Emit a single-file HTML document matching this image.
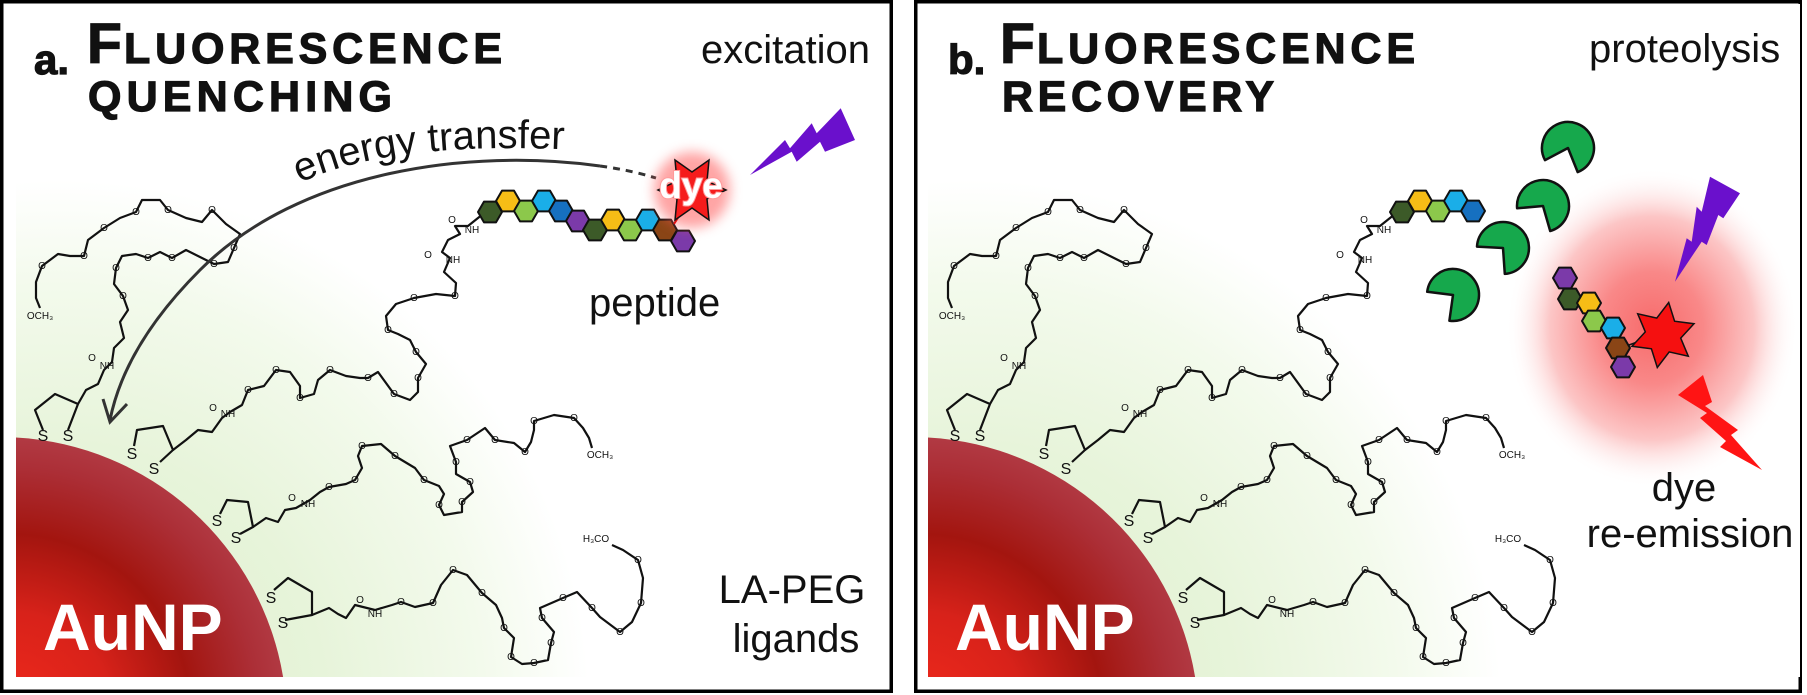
<!DOCTYPE html>
<html><head><meta charset="utf-8"><style>html,body{margin:0;padding:0;background:#fff;width:1807px;height:695px;overflow:hidden}svg{display:block}</style></head>
<body>
<svg width="1807" height="695" viewBox="0 0 1807 695" xmlns="http://www.w3.org/2000/svg" font-family="'Liberation Sans', Arial, sans-serif">
<defs>
<radialGradient id="gg" gradientUnits="userSpaceOnUse" cx="60" cy="710" r="530">
<stop offset="0" stop-color="#dcedc9"/><stop offset="0.5" stop-color="#e7f4da"/><stop offset="0.8" stop-color="#f3faec"/><stop offset="1" stop-color="#ffffff"/>
</radialGradient>
<radialGradient id="au" gradientUnits="userSpaceOnUse" cx="10" cy="715" r="292">
<stop offset="0" stop-color="#f0291c"/><stop offset="0.35" stop-color="#d8221a"/><stop offset="0.62" stop-color="#a3150f"/><stop offset="0.85" stop-color="#ac2f37"/><stop offset="1" stop-color="#b43f49"/>
</radialGradient>
<radialGradient id="rg" cx="0.5" cy="0.5" r="0.5">
<stop offset="0" stop-color="#f76b6b"/><stop offset="0.35" stop-color="#f98888"/><stop offset="0.7" stop-color="#fcc6c6"/><stop offset="1" stop-color="#ffffff" stop-opacity="0"/>
</radialGradient>
<filter id="bl" x="-50%" y="-50%" width="200%" height="200%"><feGaussianBlur stdDeviation="6"/></filter>
</defs>

<rect x="1.75" y="1.75" width="889.5" height="689.5" fill="#fff" stroke="#000" stroke-width="3.5"/>
<rect x="915.75" y="1.75" width="884.5" height="689.5" fill="#fff" stroke="#000" stroke-width="3.5"/>

<rect x="16" y="4" width="872" height="673" fill="url(#gg)"/>
<path d="M16,677 L16,437.5 A287,287 0 0 1 283.1,677 Z" fill="url(#au)"/>
<g transform="translate(912,0)">
<rect x="16" y="4" width="872" height="673" fill="url(#gg)"/>
<path d="M16,677 L16,437.5 A287,287 0 0 1 283.1,677 Z" fill="url(#au)"/>
</g>
<ellipse cx="1652" cy="328" rx="146" ry="160" fill="url(#rg)"/>

<!-- PANEL A chemistry -->
<g fill="none" stroke="#111" stroke-width="2.2" stroke-linejoin="round">
<polyline points="43,430 35,410 55,394 78,404 68,430"/>
<polyline points="78,404 86,390 98,384 104,370 112,362 114,348 124,338 120,322 128,310 123,296 114,284 116,268 122,256 136,254 148,258 160,252 172,258 186,250 198,256 214,264 228,262 234,248 240,234 226,224 212,210 202,222 186,218 168,210 160,200 142,200 136,212 120,218 104,228 88,240 84,256 70,256 58,254 42,266 36,282 36,298 40,308"/>
<polyline points="134,446 137,430 163,426 173,450 160,462"/>
<polyline points="173,450 186,440 198,430 212,432 222,418 230,412 242,405 248,390 264,386 276,370 290,372 300,386 300,398 314,394 318,380 330,370 346,376 360,378 368,378 378,372 394,394 410,400 418,392 418,378 426,364 416,352 410,340 398,334 388,330 386,316 396,304 414,298 436,294 455,296 456,283 444,272 450,258 442,252 448,240 460,234 455,226 468,226 483,214"/>
<polyline points="220,514 227,500 248,502 253,527 240,534"/>
<polyline points="253,527 266,518 278,522 285,510 296,508 310,500 320,492 329,487 346,484 355,480 362,468 358,456 362,446 381,444 395,456 415,468 424,480 439,486 444,494 439,505 444,515 462,512 462,502 473,492 470,482 456,474 456,462 450,446 467,440 485,428 495,440 514,443 525,452 531,442 534,430 534,421 554,415 574,418 583,428 589,438 592,448"/>
<polyline points="274,590 288,578 312,592 312,615 285,620"/>
<polyline points="312,615 329,608 338,614 346,618 355,605 375,610 392,605 401,602 415,607 433,603 441,585 453,570 467,575 482,593 496,605 502,618 504,628 514,638 511,657 522,664 534,663 548,660 551,643 554,632 542,618 540,608 563,598 577,592 592,608 600,617 620,632 632,622 641,603 643,578 638,560 623,550 612,545"/>
</g>
<g font-size="10" fill="#111" text-anchor="middle">
<text x="123" y="299">O</text><text x="116" y="271">O</text><text x="148" y="261">O</text><text x="172" y="261">O</text><text x="214" y="267">O</text><text x="234" y="251">O</text><text x="212" y="213">O</text><text x="168" y="213">O</text><text x="136" y="215">O</text><text x="104" y="231">O</text><text x="84" y="259">O</text><text x="42" y="269">O</text>
<text x="40" y="319">OCH₃</text><text x="92" y="361">O</text><text x="107" y="369">NH</text>
<text x="248" y="393">O</text><text x="276" y="373">O</text><text x="300" y="401">O</text><text x="330" y="373">O</text><text x="368" y="381">O</text><text x="394" y="397">O</text><text x="418" y="381">O</text><text x="416" y="355">O</text><text x="388" y="333">O</text><text x="414" y="301">O</text><text x="455" y="299">O</text>
<text x="213" y="411">O</text><text x="228" y="417">NH</text><text x="453" y="263">NH</text><text x="428" y="258">O</text><text x="452" y="223">O</text><text x="472" y="233">NH</text>
<text x="329" y="490">O</text><text x="355" y="483">O</text><text x="362" y="449">O</text><text x="395" y="459">O</text><text x="424" y="483">O</text><text x="439" y="508">O</text><text x="462" y="505">O</text><text x="470" y="485">O</text><text x="456" y="465">O</text><text x="467" y="443">O</text><text x="495" y="443">O</text><text x="525" y="455">O</text><text x="534" y="424">O</text><text x="574" y="421">O</text>
<text x="292" y="501">O</text><text x="308" y="507">NH</text><text x="600" y="458">OCH₃</text>
<text x="401" y="605">O</text><text x="433" y="606">O</text><text x="453" y="573">O</text><text x="482" y="596">O</text><text x="504" y="631">O</text><text x="511" y="660">O</text><text x="534" y="666">O</text><text x="551" y="646">O</text><text x="542" y="621">O</text><text x="563" y="601">O</text><text x="592" y="611">O</text><text x="620" y="635">O</text><text x="641" y="606">O</text><text x="638" y="563">O</text>
<text x="360" y="603">O</text><text x="375" y="617">NH</text><text x="596" y="542">H₃CO</text>
</g>
<g font-size="16" fill="#111" text-anchor="middle">
<text x="43" y="441">S</text><text x="68" y="441">S</text><text x="132" y="459">S</text><text x="154" y="474">S</text><text x="217" y="526">S</text><text x="236" y="543">S</text><text x="271" y="603">S</text><text x="283" y="628">S</text>
</g>
<text x="43" y="650" font-size="66" font-weight="bold" fill="#fff">AuNP</text>

<!-- PANEL B chemistry -->
<g transform="translate(912,0)">
<g fill="none" stroke="#111" stroke-width="2.2" stroke-linejoin="round">
<polyline points="43,430 35,410 55,394 78,404 68,430"/>
<polyline points="78,404 86,390 98,384 104,370 112,362 114,348 124,338 120,322 128,310 123,296 114,284 116,268 122,256 136,254 148,258 160,252 172,258 186,250 198,256 214,264 228,262 234,248 240,234 226,224 212,210 202,222 186,218 168,210 160,200 142,200 136,212 120,218 104,228 88,240 84,256 70,256 58,254 42,266 36,282 36,298 40,308"/>
<polyline points="134,446 137,430 163,426 173,450 160,462"/>
<polyline points="173,450 186,440 198,430 212,432 222,418 230,412 242,405 248,390 264,386 276,370 290,372 300,386 300,398 314,394 318,380 330,370 346,376 360,378 368,378 378,372 394,394 410,400 418,392 418,378 426,364 416,352 410,340 398,334 388,330 386,316 396,304 414,298 436,294 455,296 456,283 444,272 450,258 442,252 448,240 460,234 455,226 468,226 483,214"/>
<polyline points="220,514 227,500 248,502 253,527 240,534"/>
<polyline points="253,527 266,518 278,522 285,510 296,508 310,500 320,492 329,487 346,484 355,480 362,468 358,456 362,446 381,444 395,456 415,468 424,480 439,486 444,494 439,505 444,515 462,512 462,502 473,492 470,482 456,474 456,462 450,446 467,440 485,428 495,440 514,443 525,452 531,442 534,430 534,421 554,415 574,418 583,428 589,438 592,448"/>
<polyline points="274,590 288,578 312,592 312,615 285,620"/>
<polyline points="312,615 329,608 338,614 346,618 355,605 375,610 392,605 401,602 415,607 433,603 441,585 453,570 467,575 482,593 496,605 502,618 504,628 514,638 511,657 522,664 534,663 548,660 551,643 554,632 542,618 540,608 563,598 577,592 592,608 600,617 620,632 632,622 641,603 643,578 638,560 623,550 612,545"/>
</g>
<g font-size="10" fill="#111" text-anchor="middle">
<text x="123" y="299">O</text><text x="116" y="271">O</text><text x="148" y="261">O</text><text x="172" y="261">O</text><text x="214" y="267">O</text><text x="234" y="251">O</text><text x="212" y="213">O</text><text x="168" y="213">O</text><text x="136" y="215">O</text><text x="104" y="231">O</text><text x="84" y="259">O</text><text x="42" y="269">O</text>
<text x="40" y="319">OCH₃</text><text x="92" y="361">O</text><text x="107" y="369">NH</text>
<text x="248" y="393">O</text><text x="276" y="373">O</text><text x="300" y="401">O</text><text x="330" y="373">O</text><text x="368" y="381">O</text><text x="394" y="397">O</text><text x="418" y="381">O</text><text x="416" y="355">O</text><text x="388" y="333">O</text><text x="414" y="301">O</text><text x="455" y="299">O</text>
<text x="213" y="411">O</text><text x="228" y="417">NH</text><text x="453" y="263">NH</text><text x="428" y="258">O</text><text x="452" y="223">O</text><text x="472" y="233">NH</text>
<text x="329" y="490">O</text><text x="355" y="483">O</text><text x="362" y="449">O</text><text x="395" y="459">O</text><text x="424" y="483">O</text><text x="439" y="508">O</text><text x="462" y="505">O</text><text x="470" y="485">O</text><text x="456" y="465">O</text><text x="467" y="443">O</text><text x="495" y="443">O</text><text x="525" y="455">O</text><text x="534" y="424">O</text><text x="574" y="421">O</text>
<text x="292" y="501">O</text><text x="308" y="507">NH</text><text x="600" y="458">OCH₃</text>
<text x="401" y="605">O</text><text x="433" y="606">O</text><text x="453" y="573">O</text><text x="482" y="596">O</text><text x="504" y="631">O</text><text x="511" y="660">O</text><text x="534" y="666">O</text><text x="551" y="646">O</text><text x="542" y="621">O</text><text x="563" y="601">O</text><text x="592" y="611">O</text><text x="620" y="635">O</text><text x="641" y="606">O</text><text x="638" y="563">O</text>
<text x="360" y="603">O</text><text x="375" y="617">NH</text><text x="596" y="542">H₃CO</text>
</g>
<g font-size="16" fill="#111" text-anchor="middle">
<text x="43" y="441">S</text><text x="68" y="441">S</text><text x="132" y="459">S</text><text x="154" y="474">S</text><text x="217" y="526">S</text><text x="236" y="543">S</text><text x="271" y="603">S</text><text x="283" y="628">S</text>
</g>
<text x="43" y="650" font-size="66" font-weight="bold" fill="#fff">AuNP</text>
</g>

<!-- Hexagons -->
<g stroke="#111" stroke-width="2" stroke-linejoin="round">
<path transform="translate(490,212)" fill="#3c5a28" d="M12,0L6,10.4L-6,10.4L-12,0L-6,-10.4L6,-10.4Z"/>
<path transform="translate(508,201)" fill="#f6bd16" d="M12,0L6,10.4L-6,10.4L-12,0L-6,-10.4L6,-10.4Z"/>
<path transform="translate(526,211)" fill="#8cc84b" d="M12,0L6,10.4L-6,10.4L-12,0L-6,-10.4L6,-10.4Z"/>
<path transform="translate(544,201)" fill="#1aaee8" d="M12,0L6,10.4L-6,10.4L-12,0L-6,-10.4L6,-10.4Z"/>
<path transform="translate(561,211)" fill="#1670c0" d="M12,0L6,10.4L-6,10.4L-12,0L-6,-10.4L6,-10.4Z"/>
<path transform="translate(578,221)" fill="#7b3aa9" d="M12,0L6,10.4L-6,10.4L-12,0L-6,-10.4L6,-10.4Z"/>
<path transform="translate(595,230)" fill="#3c5a28" d="M12,0L6,10.4L-6,10.4L-12,0L-6,-10.4L6,-10.4Z"/>
<path transform="translate(613,220)" fill="#f6bd16" d="M12,0L6,10.4L-6,10.4L-12,0L-6,-10.4L6,-10.4Z"/>
<path transform="translate(630,230)" fill="#8cc84b" d="M12,0L6,10.4L-6,10.4L-12,0L-6,-10.4L6,-10.4Z"/>
<path transform="translate(648,220)" fill="#1aaee8" d="M12,0L6,10.4L-6,10.4L-12,0L-6,-10.4L6,-10.4Z"/>
<path transform="translate(665,230)" fill="#8a4516" d="M12,0L6,10.4L-6,10.4L-12,0L-6,-10.4L6,-10.4Z"/>
<path transform="translate(683,241)" fill="#7b3aa9" d="M12,0L6,10.4L-6,10.4L-12,0L-6,-10.4L6,-10.4Z"/>
<path transform="translate(1402,212)" fill="#3c5a28" d="M12,0L6,10.4L-6,10.4L-12,0L-6,-10.4L6,-10.4Z"/>
<path transform="translate(1420,201)" fill="#f6bd16" d="M12,0L6,10.4L-6,10.4L-12,0L-6,-10.4L6,-10.4Z"/>
<path transform="translate(1438,211)" fill="#8cc84b" d="M12,0L6,10.4L-6,10.4L-12,0L-6,-10.4L6,-10.4Z"/>
<path transform="translate(1456,201)" fill="#1aaee8" d="M12,0L6,10.4L-6,10.4L-12,0L-6,-10.4L6,-10.4Z"/>
<path transform="translate(1473,211)" fill="#1670c0" d="M12,0L6,10.4L-6,10.4L-12,0L-6,-10.4L6,-10.4Z"/>
<path transform="translate(1565,278)" fill="#7b3aa9" d="M12,0L6,10.4L-6,10.4L-12,0L-6,-10.4L6,-10.4Z"/>
<path transform="translate(1570,299)" fill="#3c5a28" d="M12,0L6,10.4L-6,10.4L-12,0L-6,-10.4L6,-10.4Z"/>
<path transform="translate(1589,303)" fill="#f6bd16" d="M12,0L6,10.4L-6,10.4L-12,0L-6,-10.4L6,-10.4Z"/>
<path transform="translate(1594,321)" fill="#8cc84b" d="M12,0L6,10.4L-6,10.4L-12,0L-6,-10.4L6,-10.4Z"/>
<path transform="translate(1613,328)" fill="#1aaee8" d="M12,0L6,10.4L-6,10.4L-12,0L-6,-10.4L6,-10.4Z"/>
<path transform="translate(1618,348)" fill="#8a4516" d="M12,0L6,10.4L-6,10.4L-12,0L-6,-10.4L6,-10.4Z"/>
<path transform="translate(1623,367)" fill="#7b3aa9" d="M12,0L6,10.4L-6,10.4L-12,0L-6,-10.4L6,-10.4Z"/>
</g>

<!-- PANEL A specific -->
<path d="M600,166 C470,148 300,170 200,270 C150,320 120,370 110,420" fill="none" stroke="#333" stroke-width="3"/>
<path d="M600,166 Q630,170 656,178" fill="none" stroke="#333" stroke-width="3" stroke-dasharray="7,6"/>
<polyline points="103,399 110,422 127,404" fill="none" stroke="#333" stroke-width="3"/>
<path id="tp" d="M300,183 Q390,140 580,150" fill="none"/>
<text font-size="40" fill="#111"><textPath href="#tp">energy transfer</textPath></text>

<circle cx="692" cy="190" r="38" fill="#ff5a5a" opacity="0.55" filter="url(#bl)"/>
<line x1="674" y1="224" x2="681" y2="213" stroke="#e01010" stroke-width="2"/>
<polygon points="675,160 692,172 709,160 707,181 726,190 707,199 709,220 692,208 675,220 677,199 658,190 677,181" fill="#f51c1c" stroke="#111" stroke-width="1.5"/>
<text x="691" y="198" font-size="37" font-weight="bold" fill="#fff" text-anchor="middle" stroke="#ff9a9a" stroke-width="2" paint-order="stroke">dye</text>

<polygon points="750,175 785,140 790,148.3 811.7,123.3 816.7,133.3 840.7,108.3 855,140 825,151.7 820,141.7 796.7,161.7 791.7,151.7" fill="#6a10cc"/>

<g fill="#111" stroke="#111" stroke-width="1.2" font-weight="bold">
<text x="34" y="74" font-size="42">a.</text>
<text x="87" y="63" font-size="57">F</text>
<text x="124" y="63" font-size="43" textLength="378" lengthAdjust="spacing">LUORESCENCE</text>
<text x="88" y="111" font-size="43" textLength="304" lengthAdjust="spacing">QUENCHING</text>
<text x="948" y="74" font-size="42">b.</text>
<text x="1000" y="63" font-size="57">F</text>
<text x="1037" y="63" font-size="43" textLength="378" lengthAdjust="spacing">LUORESCENCE</text>
<text x="1002" y="111" font-size="43" textLength="272" lengthAdjust="spacing">RECOVERY</text>
</g>

<text x="701" y="63" font-size="40" fill="#111">excitation</text>
<text x="589" y="316" font-size="40" fill="#111">peptide</text>
<text x="792" y="603" font-size="40" fill="#111" text-anchor="middle">LA-PEG</text>
<text x="796" y="652" font-size="40" fill="#111" text-anchor="middle">ligands</text>

<!-- PANEL B specific -->
<text x="1589" y="62" font-size="40" fill="#111">proteolysis</text>

<g fill="#16a84c" stroke="#111" stroke-width="2.5" stroke-linejoin="round">
<path d="M1568,148 L1545,160.2 A26,26 0 1 1 1577.7,172.1 Z"/>
<path d="M1543,206 L1517.1,208.3 A26,26 0 1 1 1550.2,231 Z"/>
<path d="M1503,248 L1477,246.6 A26,26 0 1 1 1504.8,273.9 Z"/>
<path d="M1453,295 L1427.2,291.8 A26,26 0 1 1 1449.4,320.7 Z"/>
</g>

<line x1="1629" y1="345" x2="1640" y2="341" stroke="#111" stroke-width="1.5"/>
<polygon points="1668.7,302.5 1674.6,321.2 1694,323.7 1680.7,338.1 1688.3,356.2 1669.2,351.9 1657.3,367.5 1651.4,348.8 1632,346.3 1645.3,331.9 1637.7,313.8 1656.8,318.1" fill="#f51010" stroke="#111" stroke-width="1.5"/>

<polygon points="1710,176.7 1740,193.3 1723.3,218.3 1718.3,215 1706.7,245 1701.7,241.7 1675,281.7 1686.7,238.3 1691.7,241.7 1696.7,206.7 1701.7,211.7" fill="#6a10cc"/>
<polygon points="1678,395 1703,375 1712,402 1705,406 1738,430 1731,435 1762,470 1720,447 1726,441 1700,418 1707,413" fill="#ff1414"/>

<text x="1684" y="501" font-size="40" fill="#111" text-anchor="middle">dye</text>
<text x="1690" y="547" font-size="40" fill="#111" text-anchor="middle">re-emission</text>
</svg>
</body></html>
